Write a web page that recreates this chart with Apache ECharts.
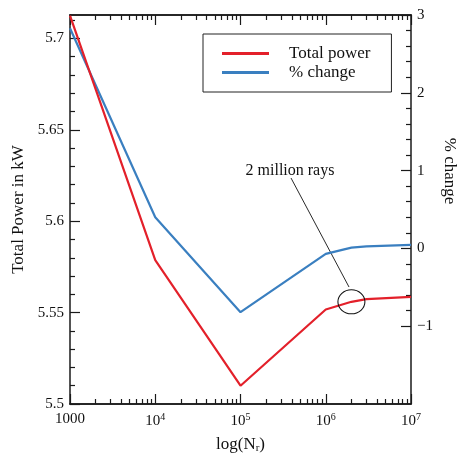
<!DOCTYPE html>
<html>
<head>
<meta charset="utf-8">
<script src="https://cdn.jsdelivr.net/npm/echarts@6/dist/echarts.min.js"></script>
<style>html,body{margin:0;padding:0;background:#fff}#c{width:457px;height:456px}</style>
</head>
<body>
<div id="c"></div>
<script>
// ---- data ----
var raysN = [1000, 10000, 100000, 1000000, 2000000, 3000000, 10000000];
var totalPower = [5.7125, 5.5787, 5.5100, 5.5517, 5.5559, 5.5574, 5.5586];
var pctChange = [2.83, 0.40, -0.82, -0.07, 0.01, 0.025, 0.045];

var xMajorTicks = [1000, 10000, 100000, 1000000, 10000000];
var xMinorTicks = [2000,3000,4000,5000,6000,7000,8000,9000,
  20000,30000,40000,50000,60000,70000,80000,90000,
  200000,300000,400000,500000,600000,700000,800000,900000,
  2000000,3000000,4000000,5000000,6000000,7000000,8000000,9000000];
var leftMajorTicks = [5.5, 5.55, 5.6, 5.65, 5.7];
var leftMinorTicks = [5.51,5.52,5.53,5.54,5.56,5.57,5.58,5.59,5.61,5.62,5.63,5.64,5.66,5.67,5.68,5.69,5.71];
var rightMajorTicks = [-1, 0, 1, 2, 3];
var rightMinorTicks = [-0.8,-0.6,-0.4,-0.2,0.2,0.4,0.6,0.8,1.2,1.4,1.6,1.8,2.2,2.4,2.6,2.8];
var annotatedPoint = [2000000, 5.5559];

var FONT = 'Liberation Serif';
var RED = '#e3202a';
var BLUE = '#3a7fc0';
var AX = '#1a1a1a';

function xAx(pos, ticks, len, labels) {
  return {
    type: 'log', logBase: 10, min: 1000, max: 10000000, position: pos,
    axisLine: {show: true, onZero: false, lineStyle: {color: AX, width: 1.5}},
    axisTick: {show: true, inside: true, length: len, customValues: ticks, lineStyle: {color: AX, width: 1.2}},
    axisLabel: labels ? {
      show: true, customValues: xMajorTicks, margin: 8, color: '#111', fontFamily: FONT, fontSize: 15,
      formatter: function (v) {
        var e = Math.round(Math.log10(v));
        if (e === 3) return '{b|1000}';
        return '{b|10}{s|' + e + '}';
      },
      rich: {b: {fontFamily: FONT, fontSize: 15, color: '#111'}, s: {fontFamily: FONT, fontSize: 10, color: '#111', padding: [0, 0, 8, 0]}}
    } : {show: false},
    splitLine: {show: false}, minorTick: {show: false}
  };
}

var chart = echarts.init(document.getElementById('c'));
chart.setOption({
  animation: false,
  backgroundColor: '#fff',
  textStyle: {fontFamily: FONT},
  grid: {left: 70, right: 46, top: 15, bottom: 52, containLabel: false, outerBoundsMode: 'none'},
  legend: {
    orient: 'vertical', left: 203, top: 34,
    borderColor: '#222', borderWidth: 1, padding: [11, 21, 11, 19],
    itemWidth: 47, itemHeight: 3, itemGap: 2, icon: 'rect',
    textStyle: {fontFamily: FONT, fontSize: 17, color: '#111', padding: [0, 0, 0, 15]},
    data: ['Total power', '% change']
  },
  xAxis: [
    Object.assign(xAx('bottom', xMajorTicks, 10, true), {
      name: '{t|log(N}{u|r}{t|)}', nameLocation: 'middle', nameGap: 32,
      nameTextStyle: {rich: {t: {fontFamily: FONT, fontSize: 17, color: '#111'}, u: {fontFamily: FONT, fontSize: 11, color: '#111', padding: [7, 0, 0, 0]}}}
    }),
    xAx('bottom', xMinorTicks, 5, false),
    xAx('top', xMajorTicks, 10, false),
    xAx('top', xMinorTicks, 5, false)
  ],
  yAxis: [
    {
      type: 'value', min: 5.5, max: 5.7128, position: 'left',
      name: 'Total Power in kW', nameLocation: 'middle', nameGap: 42,
      nameTextStyle: {fontFamily: FONT, fontSize: 17, color: '#111'},
      axisLine: {show: true, lineStyle: {color: AX, width: 1.5}},
      axisTick: {show: true, inside: true, length: 10, customValues: leftMajorTicks, lineStyle: {color: AX, width: 1.2}},
      axisLabel: {show: true, customValues: leftMajorTicks, margin: 6, color: '#111', fontFamily: FONT, fontSize: 15},
      splitLine: {show: false}
    },
    {
      type: 'value', min: 5.5, max: 5.7128, position: 'left',
      axisLine: {show: false},
      axisTick: {show: true, inside: true, length: 5, customValues: leftMinorTicks, lineStyle: {color: AX, width: 1.2}},
      axisLabel: {show: false}, splitLine: {show: false}
    },
    {
      type: 'value', min: -2, max: 3, position: 'right',
      axisLine: {show: true, lineStyle: {color: AX, width: 1.5}},
      axisTick: {show: true, inside: true, length: 10, customValues: rightMajorTicks, lineStyle: {color: AX, width: 1.2}},
      axisLabel: {show: true, customValues: rightMajorTicks, margin: 6, color: '#111', fontFamily: FONT, fontSize: 15,
        formatter: function (v) { return v < 0 ? '\u2212' + Math.abs(v) : String(v); }},
      splitLine: {show: false}
    },
    {
      type: 'value', min: -2, max: 3, position: 'right',
      axisLine: {show: false},
      axisTick: {show: true, inside: true, length: 5, customValues: rightMinorTicks, lineStyle: {color: AX, width: 1.2}},
      axisLabel: {show: false}, splitLine: {show: false}
    }
  ],
  series: [
    {
      name: 'Total power', type: 'line', xAxisIndex: 0, yAxisIndex: 0,
      data: raysN.map(function (x, i) { return [x, totalPower[i]]; }),
      symbol: 'none', lineStyle: {color: RED, width: 2.2}, itemStyle: {color: RED}, z: 3,
      markPoint: {
        symbol: 'circle', symbolSize: [27, 24], silent: true,
        itemStyle: {color: 'rgba(0,0,0,0)', borderColor: '#111', borderWidth: 1},
        label: {show: false},
        data: [{coord: annotatedPoint}]
      }
    },
    {
      name: '% change', type: 'line', xAxisIndex: 0, yAxisIndex: 2,
      data: raysN.map(function (x, i) { return [x, pctChange[i]]; }),
      symbol: 'none', lineStyle: {color: BLUE, width: 2.2}, itemStyle: {color: BLUE}, z: 2
    }
  ],
  graphic: [
    {type: 'text', x: 290, y: 171, style: {text: '2 million rays', fontFamily: FONT, fontSize: 16, fill: '#111', textAlign: 'center', textVerticalAlign: 'middle'}},
    {type: 'line', shape: {x1: 291, y1: 178, x2: 349, y2: 287}, style: {stroke: '#111', lineWidth: 0.9}},
    {type: 'text', x: 449, y: 171, rotation: -Math.PI / 2, style: {text: '% change', fontFamily: FONT, fontSize: 17, fill: '#111', textAlign: 'center', textVerticalAlign: 'middle'}}
  ]
});
</script>
</body>
</html>
